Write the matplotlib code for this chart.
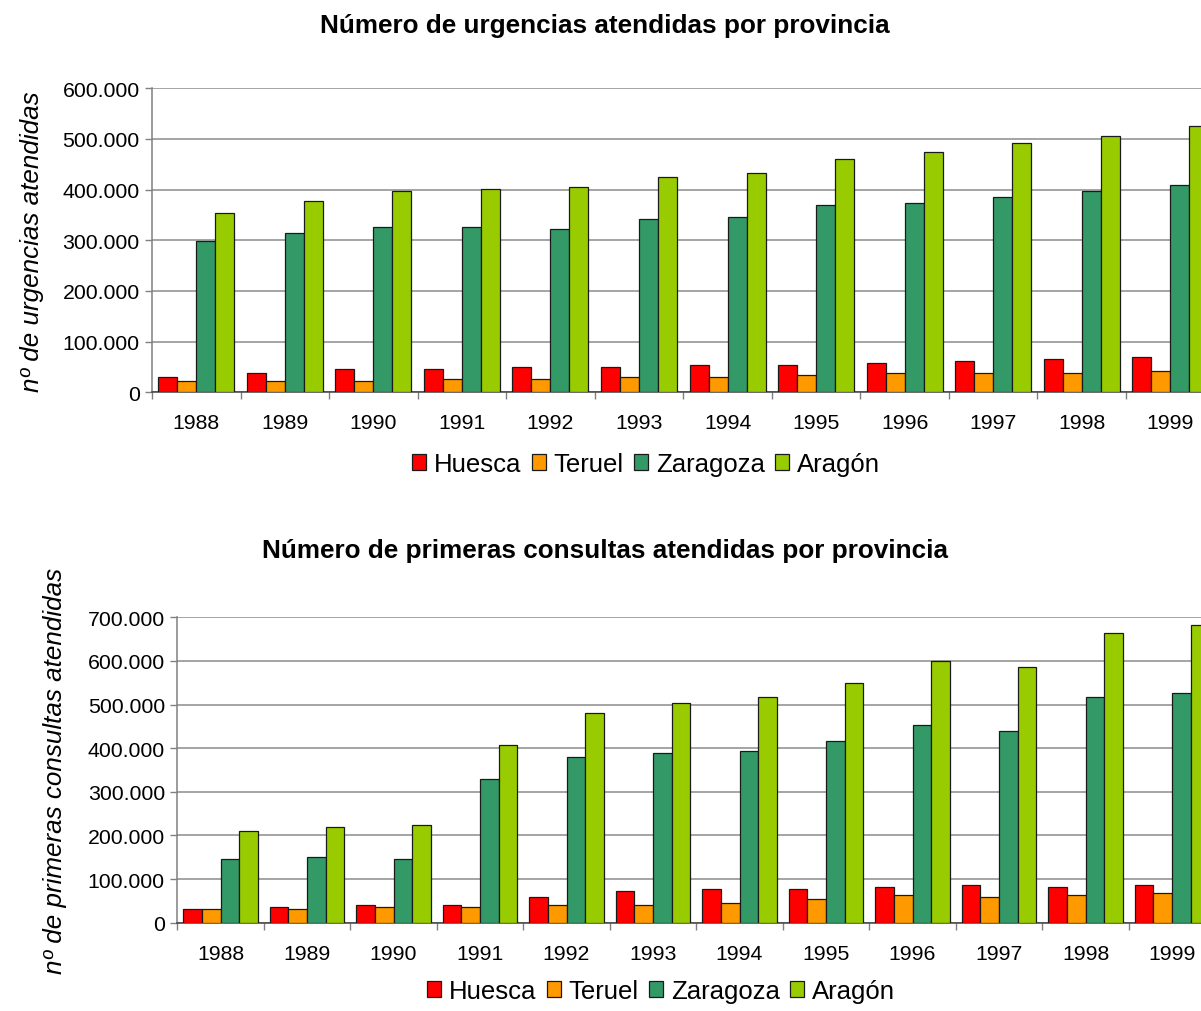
import numpy as np
import matplotlib
matplotlib.use("Agg")
import matplotlib.pyplot as plt
from matplotlib.patches import Patch
from matplotlib.ticker import FuncFormatter, FixedLocator

plt.rcParams['font.family'] = ['Liberation Sans', 'DejaVu Sans']

years = ['1988', '1989', '1990', '1991', '1992', '1993',
         '1994', '1995', '1996', '1997', '1998', '1999']
provincias = ['Huesca', 'Teruel', 'Zaragoza', 'Aragón']
colores = ['#FF0000', '#FF9900', '#339966', '#99CC00']

# urgencias atendidas
urg_huesca = [30300, 38200, 46000, 46000, 50000, 50000, 54000, 54000, 58000, 62000, 66000, 70000]
urg_teruel = [22400, 22400, 22400, 26400, 26400, 30300, 30300, 34300, 38200, 38200, 38200, 42000]
urg_zaragoza = [299000, 315000, 327000, 327000, 323000, 342800, 346700, 370500, 374400, 386300, 398000, 410000]
urg_aragon = [354700, 378000, 398000, 402000, 406000, 425800, 433800, 461400, 473300, 493000, 505000, 524700]

# primeras consultas atendidas
con_huesca = [31300, 35900, 40500, 40500, 58800, 72500, 77000, 77000, 81700, 86000, 81700, 86000]
con_teruel = [31300, 31300, 35900, 35900, 40500, 40500, 45000, 54000, 63400, 58800, 63400, 68000]
con_zaragoza = [145800, 150400, 145800, 329000, 379400, 388500, 393000, 416000, 452700, 439000, 516800, 526000]
con_aragon = [210000, 219000, 223700, 406900, 480000, 503000, 516800, 548900, 599000, 585500, 663000, 681700]

W, H = 1201, 1012
fig = plt.figure(figsize=(W / 100, H / 100), dpi=100)


def miles(v, pos):
    return f"{int(round(v)):,}".replace(',', '.')


def grafico(rect, series, ymax, ystep, titulo, ylabel, title_y, label_x, leg_x, leg_y):
    left, top, right, bottom = rect
    ax = fig.add_axes([left / W, 1 - bottom / H, (right - left) / W, (bottom - top) / H])
    x = np.arange(len(years))
    bw = 0.2147
    for i, (vals, col) in enumerate(zip(series, colores)):
        ax.bar(x + (i - 1.5) * bw, vals, width=bw, color=col,
               edgecolor='#1a1a1a', linewidth=0.9, zorder=3)
    ax.set_xlim(-0.5, len(years) - 0.5)
    ax.set_ylim(0, ymax)
    ax.yaxis.set_major_locator(FixedLocator(np.arange(0, ymax + 1, ystep)))
    ax.yaxis.set_major_formatter(FuncFormatter(miles))
    ax.yaxis.grid(True, color='#8c8c8c', linewidth=1.1, zorder=0)
    ax.set_axisbelow(True)
    ax.xaxis.set_major_locator(FixedLocator(np.arange(-0.5, len(years), 1.0)))
    ax.xaxis.set_major_formatter(FuncFormatter(lambda v, p: ''))
    ax.xaxis.set_minor_locator(FixedLocator(x))
    ax.set_xticklabels(years, minor=True)
    ax.tick_params(axis='x', which='major', direction='out', length=5, color='#808080', width=1)
    ax.tick_params(axis='x', which='minor', length=0, pad=15, labelsize=15.3)
    ax.tick_params(axis='y', direction='out', length=5, color='#808080', width=1, pad=4, labelsize=15.3)
    for s in ['top', 'right']:
        ax.spines[s].set_visible(False)
    ax.spines['left'].set_color('#808080')
    ax.spines['left'].set_linewidth(1.1)
    ax.spines['bottom'].set_color('#404040')
    ax.spines['bottom'].set_linewidth(1.1)

    fig.text(605 / W, 1 - title_y / H, titulo, ha='center', va='center',
             fontsize=18.8, fontweight='bold')
    fig.text(label_x / W, 1 - (top + bottom) / 2 / H, ylabel, rotation=90,
             ha='center', va='center', fontsize=18.7, style='italic')
    handles = [Patch(facecolor=c, edgecolor='#1a1a1a', linewidth=0.9) for c in colores]
    fig.legend(handles, provincias, loc='center', bbox_to_anchor=(leg_x / W, 1 - leg_y / H),
               ncol=4, frameon=False, fontsize=18.5, handlelength=0.55, handleheight=0.55,
               handletextpad=0.3, columnspacing=0.4, borderpad=0)
    return ax


grafico((152, 89.3, 1214.6, 393.3),
        [urg_huesca, urg_teruel, urg_zaragoza, urg_aragon], 600000, 100000,
        'Número de urgencias atendidas por provincia',
        'nº de urgencias atendidas', 26, 32, 646, 465)

grafico((177.3, 618.3, 1215.3, 923.7),
        [con_huesca, con_teruel, con_zaragoza, con_aragon], 700000, 100000,
        'Número de primeras consultas atendidas por provincia',
        'nº de primeras consultas atendidas', 551, 55, 661, 992)

fig.savefig('out.png', dpi=100, facecolor='white')
